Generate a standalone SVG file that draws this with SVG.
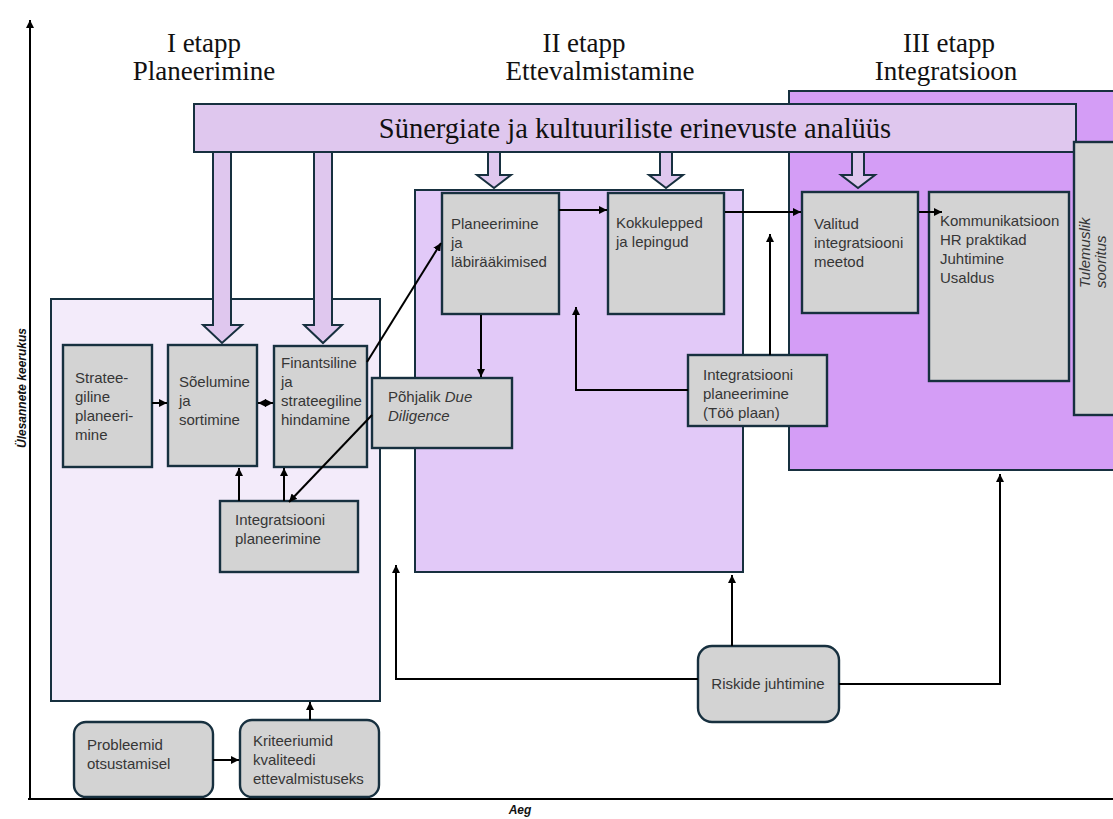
<svg xmlns="http://www.w3.org/2000/svg" width="1113" height="819" viewBox="0 0 1113 819">
  <style>
    .title { font-family: "Liberation Serif", "Times New Roman", serif; font-size: 27px; fill: #111; text-anchor: middle; }
    .banner-text { font-family: "Liberation Serif", "Times New Roman", serif; font-size: 28.5px; fill: #111; text-anchor: middle; }
    .lbl { font-family: "Liberation Sans", Arial, sans-serif; font-size: 15px; fill: #363636; }
    .axis-lbl { font-family: "Liberation Sans", Arial, sans-serif; font-size: 12px; font-weight: bold; font-style: italic; fill: #111; }
    .stage { stroke: #17303f; stroke-width: 2; }
    .box { fill: #d3d3d3; stroke: #17303f; stroke-width: 2.4; }
    .blk { fill: #dfc7ee; stroke: #17303f; stroke-width: 2; }
    .conn { fill: none; stroke: #000; stroke-width: 2; }
    .axis { fill: none; stroke: #000; stroke-width: 2; }
  </style>
  <defs>
    <marker id="ah" viewBox="0 0 10 10" refX="10" refY="5" markerWidth="8" markerHeight="8" markerUnits="userSpaceOnUse" orient="auto-start-reverse">
      <path d="M0,0 L10,5 L0,10 z" fill="#000"/>
    </marker>
  </defs>

  <!-- axes -->
  <g id="axes">
    <path class="axis" d="M30,800 V20" marker-end="url(#ah)"/>
    <path class="axis" d="M28,799 H1113"/>
    <text class="axis-lbl" x="520" y="814" text-anchor="middle">Aeg</text>
    <text class="axis-lbl" transform="translate(26,388) rotate(-90)" text-anchor="middle">Ülesannete keerukus</text>
  </g>

  <!-- stage titles -->
  <g id="titles">
    <text class="title" x="204" y="52">I etapp</text>
    <text class="title" x="204" y="80">Planeerimine</text>
    <text class="title" x="584" y="52">II etapp</text>
    <text class="title" x="600" y="80">Ettevalmistamine</text>
    <text class="title" x="949" y="52">III etapp</text>
    <text class="title" x="946" y="80">Integratsioon</text>
  </g>

  <!-- stage backgrounds -->
  <g id="stage3"><rect class="stage" x="789" y="91" width="330" height="379" fill="#d49df6"/></g>
  <g id="stage2"><rect class="stage" x="415" y="190" width="328" height="382" fill="#e2c9f8"/></g>
  <g id="stage1"><rect class="stage" x="51" y="299" width="329" height="402" fill="#f3ebfa"/></g>

  <!-- analysis banner -->
  <g id="banner">
    <rect class="blk" x="194" y="104" width="882" height="48"/>
    <text class="banner-text" x="635" y="138">Sünergiate ja kultuuriliste erinevuste analüüs</text>
  </g>

  <g id="tulemuslik">
    <rect class="box" x="1074" y="142" width="45" height="273"/>
    <text class="lbl" font-style="italic" font-size="14" transform="translate(1090,288) rotate(-90)">Tulemuslik</text>
    <text class="lbl" font-style="italic" font-size="14" transform="translate(1106,288) rotate(-90)">sooritus</text>
  </g>

  <!-- block arrows from the banner -->
  <g id="block-arrows">
    <polygon class="blk" points="213,152 231,152 231,325 242,325 222,343 203,325 213,325"/>
    <polygon class="blk" points="314,152 332,152 332,325 342,325 323,343 304,325 314,325"/>
    <polygon class="blk" points="488,152 500,152 500,175 511,175 494,188 477,175 488,175"/>
    <polygon class="blk" points="660,152 672,152 672,175 683,175 666,188 649,175 660,175"/>
    <polygon class="blk" points="852,152 864,152 864,175 875,175 858,188 841,175 852,175"/>
  </g>

  <!-- stage I nodes -->
  <g id="strateegiline">
    <rect class="box" x="63" y="345" width="89" height="122"/>
    <text class="lbl" x="75" y="383">Stratee-</text>
    <text class="lbl" x="75" y="402">giline</text>
    <text class="lbl" x="75" y="421">planeeri-</text>
    <text class="lbl" x="75" y="440">mine</text>
  </g>
  <g id="soelumine">
    <rect class="box" x="168" y="345" width="89" height="121"/>
    <text class="lbl" x="179" y="387">Sõelumine</text>
    <text class="lbl" x="179" y="406">ja</text>
    <text class="lbl" x="179" y="425">sortimine</text>
  </g>
  <g id="finantsiline">
    <rect class="box" x="274" y="346" width="93" height="121"/>
    <text class="lbl" x="281" y="368">Finantsiline</text>
    <text class="lbl" x="281" y="387">ja</text>
    <text class="lbl" x="281" y="406">strateegiline</text>
    <text class="lbl" x="281" y="425">hindamine</text>
  </g>
  <g id="integratsiooni-planeerimine">
    <rect class="box" x="220" y="501" width="138" height="71"/>
    <text class="lbl" x="235" y="525">Integratsiooni</text>
    <text class="lbl" x="235" y="544">planeerimine</text>
  </g>

  <!-- stage II nodes -->
  <g id="planeerimine">
    <rect class="box" x="442" y="193" width="117" height="121"/>
    <text class="lbl" x="451" y="229">Planeerimine</text>
    <text class="lbl" x="451" y="248">ja</text>
    <text class="lbl" x="451" y="267">läbirääkimised</text>
  </g>
  <g id="kokkulepped">
    <rect class="box" x="608" y="193" width="116" height="121"/>
    <text class="lbl" x="616" y="228">Kokkulepped</text>
    <text class="lbl" x="616" y="247">ja lepingud</text>
  </g>
  <g id="pohjalik">
    <rect class="box" x="372" y="378" width="140" height="70"/>
    <text class="lbl" x="388" y="402">Põhjalik <tspan font-style="italic">Due</tspan></text>
    <text class="lbl" x="388" y="421" font-style="italic">Diligence</text>
  </g>
  <g id="too-plaan">
    <rect class="box" x="688" y="355" width="139" height="71"/>
    <text class="lbl" x="703" y="380">Integratsiooni</text>
    <text class="lbl" x="703" y="399">planeerimine</text>
    <text class="lbl" x="703" y="418">(Töö plaan)</text>
  </g>

  <!-- stage III nodes -->
  <g id="valitud">
    <rect class="box" x="802" y="192" width="116" height="121"/>
    <text class="lbl" x="814" y="229">Valitud</text>
    <text class="lbl" x="814" y="248">integratsiooni</text>
    <text class="lbl" x="814" y="267">meetod</text>
  </g>
  <g id="kommunikatsioon">
    <rect class="box" x="929" y="192" width="140" height="189"/>
    <text class="lbl" x="940" y="226">Kommunikatsioon</text>
    <text class="lbl" x="940" y="245">HR praktikad</text>
    <text class="lbl" x="940" y="264">Juhtimine</text>
    <text class="lbl" x="940" y="283">Usaldus</text>
  </g>

  <!-- bottom nodes -->
  <g id="probleemid">
    <rect class="box" x="74" y="722" width="139" height="75" rx="12"/>
    <text class="lbl" x="87" y="750">Probleemid</text>
    <text class="lbl" x="87" y="769">otsustamisel</text>
  </g>
  <g id="kriteeriumid">
    <rect class="box" x="240" y="720" width="139" height="77" rx="12"/>
    <text class="lbl" x="253" y="746">Kriteeriumid</text>
    <text class="lbl" x="253" y="765">kvaliteedi</text>
    <text class="lbl" x="253" y="784">ettevalmistuseks</text>
  </g>
  <g id="riskide">
    <rect class="box" x="698" y="646" width="141" height="76" rx="14"/>
    <text class="lbl" x="768" y="689" text-anchor="middle">Riskide juhtimine</text>
  </g>

  <!-- connectors -->
  <g id="connectors">
    <path class="conn" d="M152,403 H167" marker-end="url(#ah)"/>
    <path class="conn" d="M258,403 H273" marker-start="url(#ah)" marker-end="url(#ah)"/>
    <path class="conn" d="M239,501 V468" marker-end="url(#ah)"/>
    <path class="conn" d="M284,501 V468" marker-end="url(#ah)"/>
    <path class="conn" d="M367,362 L441,243" marker-end="url(#ah)"/>
    <path class="conn" d="M372,415 L289,502" marker-end="url(#ah)"/>
    <path class="conn" d="M481,315 V377" marker-end="url(#ah)"/>
    <path class="conn" d="M559,210 H607" marker-end="url(#ah)"/>
    <path class="conn" d="M725,212 H801" marker-end="url(#ah)"/>
    <path class="conn" d="M919,212 H942" marker-end="url(#ah)"/>
    <path class="conn" d="M688,390 H576 V307" marker-end="url(#ah)"/>
    <path class="conn" d="M770,355 V234" marker-end="url(#ah)"/>
    <path class="conn" d="M732,646 V575" marker-end="url(#ah)"/>
    <path class="conn" d="M698,679 H396 V565" marker-end="url(#ah)"/>
    <path class="conn" d="M839,684 H1000 V474" marker-end="url(#ah)"/>
    <path class="conn" d="M213,760 H239" marker-end="url(#ah)"/>
    <path class="conn" d="M310,720 V702" marker-end="url(#ah)"/>
  </g>
</svg>
